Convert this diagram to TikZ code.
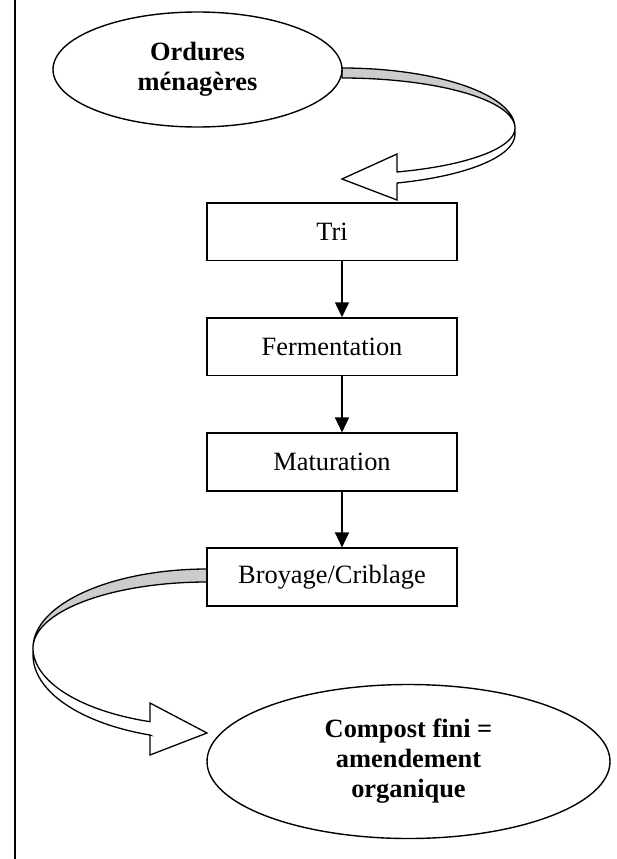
\documentclass[tikz,border=0pt]{standalone}
\usepackage{fontspec}
\setmainfont{Liberation Serif}
\usetikzlibrary{shapes.geometric,arrows.meta}
\begin{document}
\begin{tikzpicture}[x=1pt,y=-1pt,
  stepbox/.style={draw=black,line width=1.6pt,rectangle,minimum width=250pt,minimum height=57.5pt,inner sep=0pt,
    font=\fontsize{26.4}{30}\selectfont},
  endell/.style={draw=black,fill=white,line width=1.4pt,ellipse,inner sep=0pt,align=center,
    font=\fontsize{26.4}{30}\selectfont\bfseries},
  flow/.style={line width=1.5pt,-{Triangle[length=15pt,width=14pt]}},
  ribbonback/.style={draw=black,fill=black!20,line width=1.3pt,line join=round},
  ribbonfront/.style={draw=black,fill=white,line width=1.3pt,line join=miter},
  frameline/.style={line width=2pt}]
\useasboundingbox (0,0) rectangle (617,859);
\draw[frameline] (15,0) -- (15,859);

% top curved arrow
\filldraw[ribbonback] (342,68) -- plot[domain=-90:0,samples=50,variable=\t] ({342+173*cos(\t)},{128+60*sin(\t)})
  -- plot[domain=0:-90,samples=50,variable=\t] ({342+173*cos(\t)},{128+50*sin(\t)}) -- cycle;
\filldraw[ribbonfront] plot[domain=0:71.46,samples=50,variable=\t] ({342+173*cos(\t)},{128+46.4*sin(\t)})
  -- (397,154) -- (342,179) -- (397,200) -- (397,183)
  -- plot[domain=71.5:0,samples=50,variable=\t] ({342+173*cos(\t)},{134+51.7*sin(\t)}) -- cycle;

\node[endell,minimum width=289pt,minimum height=115pt] (ordures) at (197.5,69.5) {Ordures\\ménagères};

% bottom curved arrow
\filldraw[ribbonback] (207,569) -- plot[domain=270:180,samples=50,variable=\t] ({207+174*cos(\t)},{648+79*sin(\t)})
  -- plot[domain=180:270,samples=50,variable=\t] ({207+174*cos(\t)},{648+66*sin(\t)}) -- cycle;
\filldraw[ribbonfront] plot[domain=180:109.1,samples=50,variable=\t] ({207+174*cos(\t)},{648+78*sin(\t)})
  -- (150,703) -- (207,733) -- (150,755) -- (150,735)
  -- plot[domain=109.1:180,samples=50,variable=\t] ({207+174*cos(\t)},{655+84.7*sin(\t)}) -- cycle;

\node[stepbox,fill=white] (tri) at (332,231.7) {Tri};
\node[stepbox,fill=white] (ferm) at (332,346.8) {Fermentation};
\node[stepbox,fill=white] (mat) at (332,462) {Maturation};
\node[stepbox,fill=white] (broy) at (332,577) {Broyage/Criblage};

\node[endell,minimum width=403pt,minimum height=154pt] (compost) at (408.5,761.5) {Compost fini =\\amendement\\organique};

\draw[flow] ([xshift=10pt]tri.south) -- ([xshift=10pt]ferm.north);
\draw[flow] ([xshift=10pt]ferm.south) -- ([xshift=10pt]mat.north);
\draw[flow] ([xshift=10pt]mat.south) -- ([xshift=10pt]broy.north);
\end{tikzpicture}
\end{document}
